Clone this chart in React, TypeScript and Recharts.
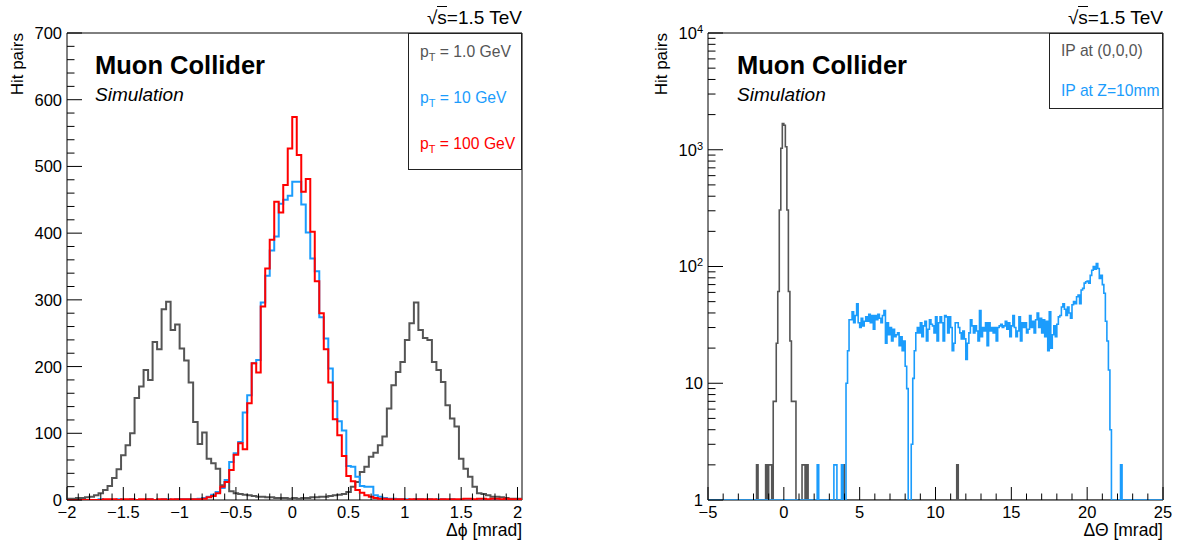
import React from "react";
import { LineChart, Line, XAxis, YAxis, ReferenceArea } from "recharts";

const FONT = '"Liberation Sans", Arial, Helvetica, sans-serif';
const GRAY = "#555555";
const BLUE = "#1b9cfc";
const RED = "#ff0000";

// ---- left panel: delta phi, 0.04 mrad bins starting at -2 mrad ----
const PHI_START = -2;
const PHI_BIN = 0.04;

const PHI_PT1 = [
  2, 2, 3, 3, 4, 5, 7, 10, 15, 21,
  33, 46, 67, 82, 100, 153, 170, 195, 180, 237,
  226, 286, 297, 255, 263, 227, 209, 176, 117, 84,
  101, 62, 55, 47, 22, 27, 13, 10, 9, 8,
  7, 6, 5, 5, 4, 4, 3, 3, 3, 2,
  3, 2, 3, 3, 4, 4, 5, 5, 6, 7,
  8, 9, 12, 20, 27, 42, 50, 65, 71, 82,
  95, 137, 172, 192, 207, 240, 265, 296, 255, 243,
  240, 207, 195, 177, 142, 122, 110, 62, 47, 35,
  20, 10, 9, 7, 5, 5, 4, 3, 2, 2,
  2,
];

const PHI_PT10 = [
  0, 0, 0, 0, 0, 0, 0, 1, 0, 0,
  0, 1, 0, 0, 1, 0, 0, 0, 1, 0,
  0, 1, 1, 0, 1, 1, 1, 1, 1, 2,
  3, 5, 8, 12, 18, 30, 57, 70, 87, 131,
  157, 205, 210, 296, 336, 374, 395, 444, 450, 456,
  477, 477, 443, 401, 362, 343, 274, 242, 197, 148,
  118, 104, 51, 50, 35, 21, 20, 20, 7, 5,
  3, 2, 2, 1, 1, 1, 0, 1, 1, 0,
  1, 0, 1, 1, 0, 1, 0, 0, 1, 0,
  0, 1, 0, 0, 0, 1, 0, 0, 0, 0,
  0,
];

const PHI_PT100 = [
  0, 0, 0, 0, 0, 0, 0, 0, 1, 1,
  1, 0, 1, 1, 1, 0, 1, 1, 1, 0,
  1, 1, 0, 1, 1, 1, 1, 1, 1, 1,
  2, 4, 6, 10, 20, 27, 45, 68, 85, 76,
  145, 205, 191, 290, 347, 390, 447, 431, 472, 527,
  574, 517, 462, 481, 402, 328, 280, 226, 176, 121,
  97, 66, 36, 28, 15, 11, 7, 5, 3, 2,
  2, 1, 1, 1, 1, 0, 1, 1, 1, 1,
  1, 1, 0, 1, 1, 1, 1, 1, 2, 2,
  1, 2, 2, 1, 2, 2, 1, 2, 1, 1,
  1,
];

const PHI_MAJOR = [-2, -1.5, -1, -0.5, 0, 0.5, 1, 1.5, 2];
const PHI_LABELS = ["−2", "−1.5", "−1", "−0.5", "0", "0.5", "1", "1.5", "2"];
const HITS_MAJOR = [0, 100, 200, 300, 400, 500, 600, 700];
const HITS_LABELS = ["0", "100", "200", "300", "400", "500", "600", "700"];

// ---- right panel: delta theta, 0.1 mrad bins from -5 to 25 mrad ----
const THETA_START = -5;
const THETA_BIN = 0.1;
const THETA_NBINS = 300;

// IP at (0,0,0): main peak (first bin edge -0.7) plus isolated bins holding 2 pairs
const IP0_FROM = -0.7;
const IP0_RUN = [7, 7, 22, 61, 305, 1030, 1680, 1620, 1060, 305, 61, 23, 7, 7, 7];
const IP0_SINGLES = [-1.8, -1.2, -1.0, -0.9, 1.2, 1.3, 1.5, 3.9, 11.4];

// IP at Z=10mm: run from 4.1 to 21.5 mrad
const Z10_FROM = 4.1;
const Z10_RUN = [
  10, 19, 35, 35, 41, 33, 38, 48, 33, 30,
  36, 31, 34, 37, 34, 39, 33, 38, 29, 38,
  35, 39, 36, 33, 38, 42, 22, 33, 26, 30,
  23, 29, 25, 26, 27, 21, 25, 19, 23, 14,
  9, 0, 0, 3, 11, 19, 27, 30, 27, 33,
  25, 31, 34, 23, 29, 35, 32, 31, 27, 37,
  23, 33, 37, 33, 23, 38, 37, 27, 37, 30,
  19, 22, 33, 33, 30, 27, 24, 28, 24, 16,
  22, 27, 35, 31, 27, 31, 28, 23, 42, 25,
  30, 28, 33, 21, 33, 28, 30, 27, 30, 23,
  30, 31, 32, 30, 31, 34, 29, 33, 25, 31,
  38, 30, 25, 28, 37, 23, 33, 30, 33, 27,
  29, 38, 30, 34, 27, 35, 40, 30, 36, 27,
  35, 25, 34, 19, 41, 20, 26, 31, 25, 32,
  37, 38, 45, 48, 43, 38, 45, 40, 36, 47,
  50, 48, 55, 57, 48, 63, 65, 72, 74, 75,
  72, 84, 93, 100, 95, 106, 96, 79, 84, 70,
  59, 34, 23, 13, 4,
];
const Z10_SINGLES = [2.2, 3.3, 3.4, 3.8, 22.2];
const SINGLE_COUNT = 2;

const THETA_MAJOR = [-5, 0, 5, 10, 15, 20, 25];
const THETA_LABELS = ["−5", "0", "5", "10", "15", "20", "25"];
const LOG_DECADES = [1, 10, 100, 1000, 10000];
const LOG_EXP = ["", "", "2", "3", "4"];

// ---- build step data (one extra point closes the last bin) ----
const phiData = Array.from({ length: PHI_PT1.length + 1 }, (_, i) => {
  const j = Math.min(i, PHI_PT1.length - 1);
  return {
    x: +(PHI_START + i * PHI_BIN).toFixed(3),
    pt1: PHI_PT1[j],
    pt10: PHI_PT10[j],
    pt100: PHI_PT100[j],
  };
});
const PHI_END = +(PHI_START + PHI_PT1.length * PHI_BIN).toFixed(3);

function fillBins(from: number, run: number[], singles: number[]) {
  const bins: number[] = new Array(THETA_NBINS).fill(0);
  const first = Math.round((from - THETA_START) / THETA_BIN);
  run.forEach((v, k) => {
    bins[first + k] = v;
  });
  singles.forEach((s) => {
    bins[Math.round((s - THETA_START) / THETA_BIN)] = SINGLE_COUNT;
  });
  return bins;
}
const ip0Bins = fillBins(IP0_FROM, IP0_RUN, IP0_SINGLES);
const z10Bins = fillBins(Z10_FROM, Z10_RUN, Z10_SINGLES);

// empty bins sit on the floor of the log axis
const thetaData = Array.from({ length: THETA_NBINS + 1 }, (_, i) => {
  const j = Math.min(i, THETA_NBINS - 1);
  return {
    x: +(THETA_START + i * THETA_BIN).toFixed(2),
    ip0: Math.max(ip0Bins[j], 1),
    z10: Math.max(z10Bins[j], 1),
  };
});
const THETA_END = THETA_START + THETA_NBINS * THETA_BIN;

const steps = (from: number, to: number, step: number) =>
  Array.from({ length: Math.round((to - from) / step) + 1 }, (_, i) => +(from + i * step).toFixed(4));

const phiTicks = steps(-2, 2, 0.1);
const hitsTicks = steps(0, 700, 20);
const thetaTicks = steps(-5, 25, 1);
const logTicks = [1, 10, 100, 1000].flatMap((d) => [1, 2, 3, 4, 5, 6, 7, 8, 9].map((m) => m * d)).concat([10000]);

// ---- ROOT-like inward ticks ----
type TickProps = { x: number; y: number; payload: { value: number } };

const findMajor = (majors: number[], v: number) => majors.findIndex((m) => Math.abs(m - v) < 1e-6);

const bottomTick = (majors: number[], labels: string[]) => (props: any) => {
  const { x, y, payload } = props as TickProps;
  const i = findMajor(majors, payload.value);
  return (
    <g>
      <line x1={x} y1={y} x2={x} y2={y - (i >= 0 ? 13 : 6.5)} stroke="#000" strokeWidth={1} />
      {i >= 0 && (
        <text x={x} y={y + 18} textAnchor="middle" fontFamily={FONT} fontSize={16.5} fill="#000">
          {labels[i]}
        </text>
      )}
    </g>
  );
};

const leftTick = (majors: number[], labels: string[]) => (props: any) => {
  const { x, y, payload } = props as TickProps;
  const i = findMajor(majors, payload.value);
  return (
    <g>
      <line x1={x} y1={y} x2={x + (i >= 0 ? 15 : 7.5)} y2={y} stroke="#000" strokeWidth={1} />
      {i >= 0 && (
        <text x={x - 5} y={y} dy="0.36em" textAnchor="end" fontFamily={FONT} fontSize={16.5} fill="#000">
          {labels[i]}
        </text>
      )}
    </g>
  );
};

const logTick = (props: any) => {
  const { x, y, payload } = props as TickProps;
  const i = LOG_DECADES.findIndex((d) => Math.abs(d - payload.value) < 1e-6);
  return (
    <g>
      <line x1={x} y1={y} x2={x + (i >= 0 ? 15 : 7.5)} y2={y} stroke="#000" strokeWidth={1} />
      {i >= 0 && (
        <text x={x - 5} y={y} dy="0.36em" textAnchor="end" fontFamily={FONT} fontSize={16.5} fill="#000">
          {i === 0 ? "1" : "10"}
          {LOG_EXP[i] && (
            <tspan dy="-0.55em" fontSize={11}>
              {LOG_EXP[i]}
            </tspan>
          )}
        </text>
      )}
    </g>
  );
};

// ---- overlay text ----
const Txt = ({ left, top, size, children, style }: any) => (
  <div
    style={{
      position: "absolute",
      left,
      top,
      fontSize: size,
      lineHeight: 1,
      whiteSpace: "nowrap",
      fontFamily: FONT,
      color: "#000",
      ...style,
    }}
  >
    {children}
  </div>
);

const RightTxt = ({ right, top, size, children }: any) => (
  <div
    style={{
      position: "absolute",
      left: right - 300,
      width: 300,
      top,
      textAlign: "right",
      fontSize: size,
      lineHeight: 1,
      whiteSpace: "nowrap",
      fontFamily: FONT,
      color: "#000",
    }}
  >
    {children}
  </div>
);

const YTitle = ({ left }: { left: number }) => (
  <div
    style={{
      position: "absolute",
      left,
      top: 33 + 200,
      width: 200,
      textAlign: "right",
      transform: "rotate(-90deg)",
      transformOrigin: "top left",
      fontSize: 17,
      lineHeight: 1,
      whiteSpace: "nowrap",
      fontFamily: FONT,
      color: "#000",
    }}
  >
    Hit pairs
  </div>
);

const Pt = ({ v }: { v: string }) => (
  <>
    p<span style={{ fontSize: 11, position: "relative", top: 4 }}>T</span> = {v} GeV
  </>
);

const Sqrts = () => (
  <>
    √<span style={{ borderTop: "1.5px solid #000" }}>s</span>=1.5 TeV
  </>
);

const legendBox = (left: number, height: number) => (
  <div
    style={{
      position: "absolute",
      left,
      top: 33,
      width: 114,
      height,
      boxSizing: "border-box",
      border: "1px solid #222",
      background: "#fff",
    }}
  />
);

export default function App() {
  return (
    <div
      style={{
        position: "absolute",
        left: 0,
        top: 0,
        width: 1181,
        height: 542,
        background: "#fff",
        overflow: "hidden",
      }}
    >
      {/* left panel */}
      <div style={{ position: "absolute", left: 0, top: 0 }}>
        <LineChart width={590} height={542} data={phiData} margin={{ top: 33, right: 68, bottom: 0, left: 0 }}>
          <XAxis
            dataKey="x"
            type="number"
            domain={[PHI_START, PHI_END]}
            allowDataOverflow
            ticks={phiTicks}
            interval={0}
            height={42}
            tickSize={0}
            tickMargin={0}
            axisLine={false}
            tickLine={false}
            tick={bottomTick(PHI_MAJOR, PHI_LABELS)}
          />
          <YAxis
            type="number"
            domain={[0, 700]}
            allowDataOverflow
            ticks={hitsTicks}
            interval={0}
            width={67}
            tickSize={0}
            tickMargin={0}
            axisLine={false}
            tickLine={false}
            tick={leftTick(HITS_MAJOR, HITS_LABELS)}
          />
          <ReferenceArea x1={PHI_START} x2={PHI_END} y1={0} y2={700} fill="none" stroke="#000" strokeWidth={1} />
          <Line type="stepAfter" dataKey="pt1" stroke={GRAY} strokeWidth={2} dot={false} activeDot={false} isAnimationActive={false} />
          <Line type="stepAfter" dataKey="pt10" stroke={BLUE} strokeWidth={2} dot={false} activeDot={false} isAnimationActive={false} />
          <Line type="stepAfter" dataKey="pt100" stroke={RED} strokeWidth={2} dot={false} activeDot={false} isAnimationActive={false} />
        </LineChart>
      </div>

      {/* right panel */}
      <div style={{ position: "absolute", left: 590, top: 0 }}>
        <LineChart width={591} height={542} data={thetaData} margin={{ top: 33, right: 18, bottom: 0, left: 0 }}>
          <XAxis
            dataKey="x"
            type="number"
            domain={[THETA_START, THETA_END]}
            allowDataOverflow
            ticks={thetaTicks}
            interval={0}
            height={42}
            tickSize={0}
            tickMargin={0}
            axisLine={false}
            tickLine={false}
            tick={bottomTick(THETA_MAJOR, THETA_LABELS)}
          />
          <YAxis
            type="number"
            scale="log"
            domain={[1, 10000]}
            allowDataOverflow
            ticks={logTicks}
            interval={0}
            width={118}
            tickSize={0}
            tickMargin={0}
            axisLine={false}
            tickLine={false}
            tick={logTick}
          />
          <ReferenceArea x1={THETA_START} x2={THETA_END} y1={1} y2={10000} fill="none" stroke="#000" strokeWidth={1} />
          <Line type="stepAfter" dataKey="ip0" stroke={GRAY} strokeWidth={1.6} dot={false} activeDot={false} isAnimationActive={false} />
          <Line type="stepAfter" dataKey="z10" stroke={BLUE} strokeWidth={1.6} dot={false} activeDot={false} isAnimationActive={false} />
        </LineChart>
      </div>

      {/* legends */}
      {legendBox(408, 137)}
      <Txt left={420} top={43.7} size={15.7} style={{ color: GRAY }}>
        <Pt v="1.0" />
      </Txt>
      <Txt left={420} top={89.7} size={15.7} style={{ color: BLUE }}>
        <Pt v="10" />
      </Txt>
      <Txt left={420} top={135.7} size={15.7} style={{ color: RED }}>
        <Pt v="100" />
      </Txt>

      {legendBox(1049, 76)}
      <Txt left={1061} top={43.2} size={15.7} style={{ color: GRAY }}>
        IP at (0,0,0)
      </Txt>
      <Txt left={1061} top={83.4} size={15.7} style={{ color: BLUE }}>
        IP at Z=10mm
      </Txt>

      {/* labels */}
      <Txt left={95} top={53.4} size={25.5} style={{ fontWeight: "bold" }}>
        Muon Collider
      </Txt>
      <Txt left={95} top={85.4} size={19} style={{ fontStyle: "italic" }}>
        Simulation
      </Txt>
      <Txt left={737} top={53.4} size={25.5} style={{ fontWeight: "bold" }}>
        Muon Collider
      </Txt>
      <Txt left={737} top={85.4} size={19} style={{ fontStyle: "italic" }}>
        Simulation
      </Txt>

      <RightTxt right={522} top={7.9} size={19}>
        <Sqrts />
      </RightTxt>
      <RightTxt right={1163} top={7.9} size={19}>
        <Sqrts />
      </RightTxt>

      <RightTxt right={522} top={522.2} size={17.5}>
        Δϕ [mrad]
      </RightTxt>
      <RightTxt right={1163} top={522.2} size={17.5}>
        ΔΘ [mrad]
      </RightTxt>

      <YTitle left={9} />
      <YTitle left={653} />
    </div>
  );
}
